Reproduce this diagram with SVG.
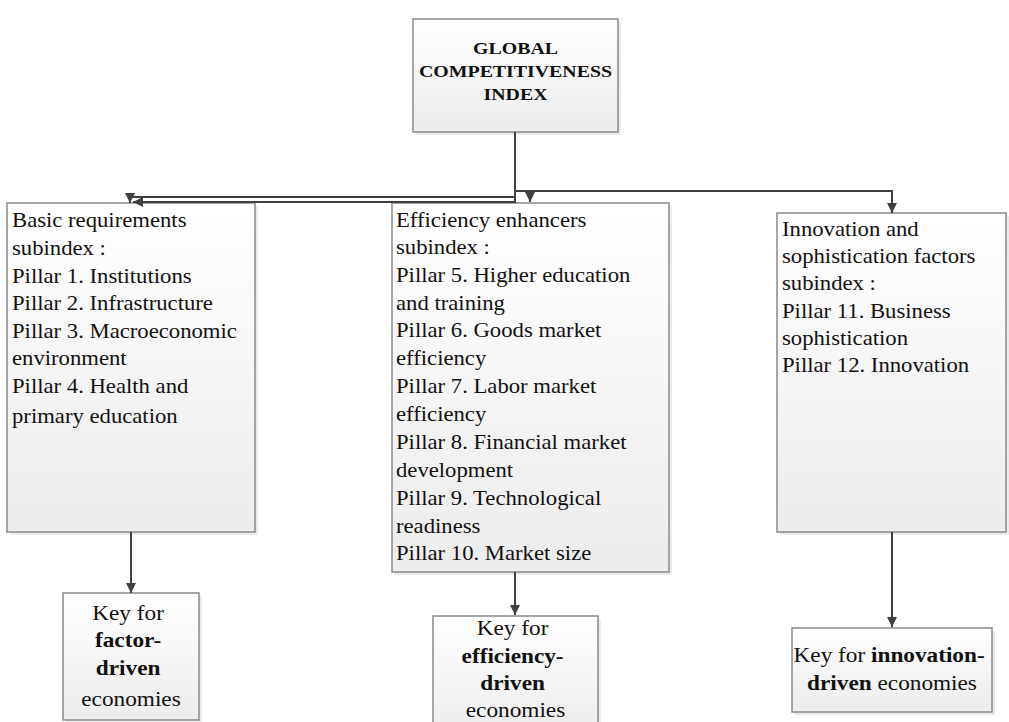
<svg xmlns="http://www.w3.org/2000/svg" width="1009" height="722" viewBox="0 0 1009 722">
<style>
  .box{fill:url(#g);stroke:#8a8a8a;stroke-width:1.5}
  .sh{fill:#000;opacity:0.08}
  .t{font-family:"Liberation Serif","Times New Roman",serif;font-size:20px;fill:#111}
  .k{font-family:"Liberation Serif","Times New Roman",serif;font-size:20.5px;fill:#111;text-anchor:middle}
  .h{font-family:"Liberation Serif","Times New Roman",serif;font-size:17.5px;font-weight:bold;fill:#111;text-anchor:middle}
  .c{fill:none;stroke:#404040;stroke-width:2}
  b,.b{font-weight:bold}
</style>
<defs>
  <linearGradient id="g" x1="0" y1="0" x2="0" y2="1">
    <stop offset="0" stop-color="#ffffff"/>
    <stop offset="1" stop-color="#ececec"/>
  </linearGradient>
  <marker id="a" viewBox="0 0 10 10" refX="10" refY="5" markerWidth="10" markerHeight="10" markerUnits="userSpaceOnUse" orient="auto">
    <path d="M0,0 L10,5 L0,10 Z" fill="#404040"/>
  </marker>
</defs>
<rect width="1009" height="722" fill="#fff"/>

<g id="gci">
  <rect class="sh" x="416" y="22" width="205" height="113"/>
  <rect class="box" x="413" y="19" width="205" height="113"/>
  <text class="h" transform="translate(515.5 0) scale(1.135 1)"><tspan x="0" y="54">GLOBAL</tspan><tspan x="0" y="77">COMPETITIVENESS</tspan><tspan x="0" y="100">INDEX</tspan></text>
</g>

<g id="basic">
  <rect class="sh" x="10" y="206" width="248" height="329"/>
  <rect class="box" x="7" y="203" width="248" height="329"/>
  <text class="t" transform="translate(12 0) scale(1.135 1)">
    <tspan x="0" y="227">Basic requirements</tspan>
    <tspan x="0" y="255">subindex :</tspan>
    <tspan x="0" y="283">Pillar 1. Institutions</tspan>
    <tspan x="0" y="310">Pillar 2. Infrastructure</tspan>
    <tspan x="0" y="338">Pillar 3. Macroeconomic</tspan>
    <tspan x="0" y="365">environment</tspan>
    <tspan x="0" y="393">Pillar 4. Health and</tspan>
    <tspan x="0" y="423">primary education</tspan>
  </text>
</g>

<g id="efficiency">
  <rect class="sh" x="395" y="206" width="277" height="369"/>
  <rect class="box" x="392" y="203" width="277" height="369"/>
  <text class="t" transform="translate(396 0) scale(1.135 1)">
    <tspan x="0" y="227">Efficiency enhancers</tspan>
    <tspan x="0" y="254">subindex :</tspan>
    <tspan x="0" y="282">Pillar 5. Higher education</tspan>
    <tspan x="0" y="310">and training</tspan>
    <tspan x="0" y="337">Pillar 6. Goods market</tspan>
    <tspan x="0" y="365">efficiency</tspan>
    <tspan x="0" y="393">Pillar 7. Labor market</tspan>
    <tspan x="0" y="421">efficiency</tspan>
    <tspan x="0" y="449">Pillar 8. Financial market</tspan>
    <tspan x="0" y="477">development</tspan>
    <tspan x="0" y="505">Pillar 9. Technological</tspan>
    <tspan x="0" y="533">readiness</tspan>
    <tspan x="0" y="560">Pillar 10. Market size</tspan>
  </text>
</g>

<g id="innovation">
  <rect class="sh" x="780" y="216" width="229" height="319"/>
  <rect class="box" x="777" y="213" width="229" height="319"/>
  <text class="t" transform="translate(782 0) scale(1.135 1)">
    <tspan x="0" y="236">Innovation and</tspan>
    <tspan x="0" y="263">sophistication factors</tspan>
    <tspan x="0" y="290">subindex :</tspan>
    <tspan x="0" y="318">Pillar 11. Business</tspan>
    <tspan x="0" y="345">sophistication</tspan>
    <tspan x="0" y="372">Pillar 12. Innovation</tspan>
  </text>
</g>

<g id="key-factor">
  <rect class="sh" x="66" y="596" width="136" height="127"/>
  <rect class="box" x="63" y="593" width="136" height="127"/>
  <text class="k" transform="translate(131 0) scale(1.135 1)">
    <tspan x="0" y="620">Key for</tspan>
    <tspan x="0" y="647" class="b">factor-</tspan>
    <tspan x="0" y="675" class="b">driven</tspan>
    <tspan x="0" y="706">economies</tspan>
  </text>
</g>

<g id="key-efficiency">
  <rect class="sh" x="436" y="619" width="165" height="120"/>
  <rect class="box" x="433" y="616" width="165" height="120"/>
  <text class="k" transform="translate(515.5 0) scale(1.135 1)">
    <tspan x="0" y="635">Key for</tspan>
    <tspan x="0" y="663" class="b">efficiency-</tspan>
    <tspan x="0" y="690" class="b">driven</tspan>
    <tspan x="0" y="717">economies</tspan>
  </text>
</g>

<g id="key-innovation">
  <rect class="sh" x="795" y="631" width="200" height="84"/>
  <rect class="box" x="792" y="628" width="200" height="84"/>
  <text class="k" transform="translate(892 0) scale(1.135 1)">
    <tspan x="0" y="662">Key for <tspan class="b">innovation-</tspan></tspan>
    <tspan x="0" y="690"><tspan class="b">driven</tspan> economies</tspan>
  </text>
</g>

<g id="connectors">
  <path class="c" d="M515,132 V202 H133" marker-end="url(#a)"/>
  <path class="c" d="M515,197 H130 V203" marker-end="url(#a)"/>
  <path class="c" d="M515,191 H892 V213" marker-end="url(#a)"/>
  <path class="c" d="M530,191 V202" marker-end="url(#a)"/>
  <path class="c" d="M131,532 V593" marker-end="url(#a)"/>
  <path class="c" d="M515,572 V615" marker-end="url(#a)"/>
  <path class="c" d="M892,532 V627" marker-end="url(#a)"/>
</g>
</svg>
